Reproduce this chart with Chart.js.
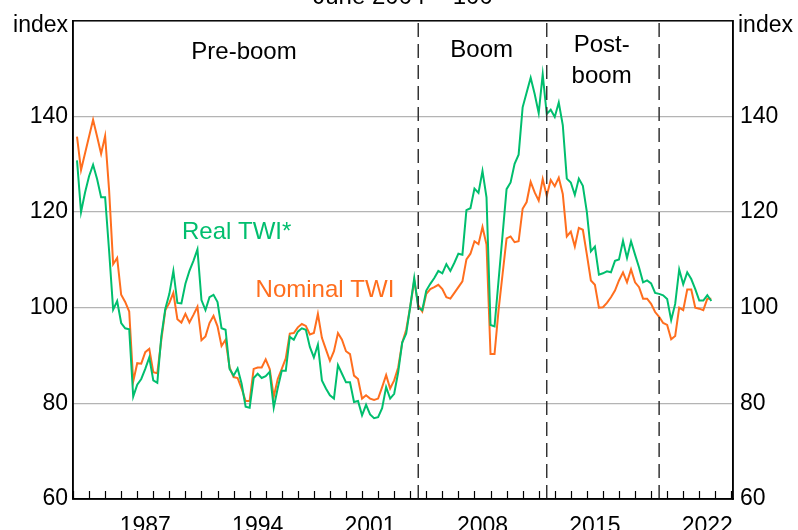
<!DOCTYPE html>
<html><head><meta charset="utf-8">
<script src="https://cdn.jsdelivr.net/npm/chart.js@4/dist/chart.umd.min.js"></script>
<style>html,body{margin:0;padding:0;background:#fff;overflow:hidden}</style>
</head><body>
<canvas id="c" width="798" height="530"></canvas>
<script>
// Quarterly observations, March 1983 to September 2022 (June 2004 = 100)
const firstYear = 1983;
const quarterMonths = [3, 6, 9, 12];
const nominalTWI = [
135.8,128.8,132.3,135.8,139.3,135.8,132.2,135.9,124.5,109.1,110.4,102.7,101.2,99.2,84.6,88.4,
88.3,90.7,91.4,86.5,86.3,93.3,99.5,101.0,103.1,97.6,96.9,98.7,96.9,98.5,100.2,93.2,
94.0,96.8,98.3,96.1,92.0,93.3,87.5,85.5,85.3,83.1,80.5,80.5,87.2,87.5,87.5,89.2,
87.2,81.4,85.1,87.2,89.4,94.6,94.7,95.9,96.6,96.2,94.4,94.7,98.7,93.7,91.3,88.9,
90.9,94.7,93.3,90.9,90.3,85.8,85.1,81.0,81.7,81.0,80.7,81.0,83.4,85.9,83.1,84.8,
87.5,92.7,95.4,100.2,105.7,100.5,99.2,102.9,103.9,104.3,104.8,103.9,102.2,101.9,103.1,104.3,
105.5,110.1,111.3,113.9,113.3,116.9,113.2,90.3,90.3,99.5,107.0,114.5,114.9,113.7,113.9,120.7,
122.1,126.3,124.1,122.4,126.9,123.4,126.7,125.4,127.2,123.8,114.9,115.9,112.8,116.7,116.3,111.1,
105.7,104.8,100.0,100.1,101.0,102.2,103.6,105.7,107.4,105.3,108.0,105.3,104.3,101.9,101.9,100.8,
99.1,98.1,96.8,96.4,93.4,94.1,100.0,99.5,103.8,103.8,100.0,99.8,99.5,101.9,101.9
];
const realTWI = [
130.8,120.0,124.1,127.5,129.9,126.9,123.1,123.1,111.8,99.6,101.4,96.8,95.7,95.5,81.4,83.9,
85.1,87.2,89.6,84.8,84.3,94.0,99.8,102.9,107.7,101.0,100.9,105.0,107.7,109.8,112.2,101.6,
99.5,102.2,102.7,101.2,95.7,95.4,87.2,85.8,87.3,84.1,79.3,79.1,85.3,86.2,85.3,85.7,
86.6,79.1,83.2,86.8,86.8,93.9,93.3,95.0,95.7,95.4,91.8,89.6,92.3,84.8,83.1,81.7,
81.0,88.0,86.2,84.4,84.4,80.3,80.5,77.5,79.7,77.7,76.9,77.1,79.0,83.4,81.0,82.0,
86.5,92.7,94.6,100.2,106.2,100.0,99.5,103.6,105.0,106.2,107.7,107.2,109.1,107.7,109.4,111.3,
111.1,120.4,120.8,124.9,124.0,128.6,123.1,96.4,96.1,105.7,115.2,124.8,126.2,130.1,132.0,141.9,
145.0,148.1,144.7,140.7,148.8,140.5,141.4,139.9,142.9,138.2,127.0,126.2,123.6,127.0,125.5,120.0,
111.8,112.8,106.9,107.2,107.6,107.4,109.8,110.1,114.0,110.4,113.9,111.1,108.4,105.3,105.7,105.1,
103.1,102.9,102.6,101.8,97.4,100.8,108.0,104.9,107.4,106.0,103.9,101.5,101.5,102.6,101.4
];
const xTickLabels = ['1987', '1994', '2001', '2008', '2015', '2022'];
const yTickValues = [60, 80, 100, 120, 140];
const boomBoundaries = [2004.5, 2012.5, 2019.5];
const periodNames = [
  {lines: ['Pre-boom'], x: 1993.65, y: 152.1},
  {lines: ['Boom'], x: 2008.45, y: 152.45},
  {lines: ['Post-', 'boom'], x: 2015.92, y: 153.5}
];
const seriesNames = [
  {text: 'Real TWI*', x: 1993.19, y: 114.3, color: '#00BE6E'},
  {text: 'Nominal TWI', x: 1998.69, y: 102.2, color: '#FF6E1E'}
];

// category list (quarter dates) and decimal-year position
const quarters = [];
for (let i = 0; i < nominalTWI.length; i++) {
  const yr = firstYear + Math.floor(i / 4);
  const m = quarterMonths[i % 4];
  quarters.push({label: yr + '-' + String(m).padStart(2, '0'), x: yr + m / 12});
}

const FONT = "'Liberation Sans', Arial, sans-serif";
const GREEN = '#00BE6E', ORANGE = '#FF6E1E';

const lineData = arr => quarters.map((q, i) => ({x: q.x, y: arr[i]}));

const datasets = [
  {label: 'Nominal TWI', data: lineData(nominalTWI), borderColor: ORANGE, borderWidth: 2, pointRadius: 0, tension: 0, order: 2},
  {label: 'Real TWI*', data: lineData(realTWI), borderColor: GREEN, borderWidth: 2, pointRadius: 0, tension: 0, order: 1}
];
boomBoundaries.forEach(b => datasets.push({
  label: 'boundary', data: [{x: b, y: 60}, {x: b, y: 160}], borderColor: '#333', borderWidth: 1.5,
  borderDash: [14, 7], pointRadius: 0, order: 0
}));

const overlay = {
  id: 'overlay',
  afterDraw(chart) {
    const c = chart.ctx, a = chart.chartArea, xs = chart.scales.x, ys = chart.scales.y;
    c.save();
    // minor year ticks (inside)
    c.strokeStyle = '#000'; c.lineWidth = 1.2;
    for (let yr = Math.ceil(xs.min); yr <= xs.max; yr++) {
      const px = Math.round(xs.getPixelForValue(yr)) + 0.5;
      c.beginPath(); c.moveTo(px, a.bottom); c.lineTo(px, a.bottom - 8); c.stroke();
    }
    // frame
    c.lineWidth = 1.5; c.strokeStyle = '#000';
    c.strokeRect(a.left, a.top, a.right - a.left, a.bottom - a.top);
    // texts
    c.fillStyle = '#000';
    c.font = '23px ' + FONT;
    c.textBaseline = 'alphabetic';
    c.textAlign = 'right'; c.fillText('index', 68, 32);
    c.textAlign = 'left'; c.fillText('index', 738, 32);
    c.font = '24px ' + FONT;
    c.textAlign = 'center'; c.fillText('June 2004 = 100', 403, 4);
    periodNames.forEach(p => {
      const px = xs.getPixelForValue(p.x);
      let py = ys.getPixelForValue(p.y);
      p.lines.forEach((t, k) => c.fillText(t, px, py + k * 30.7));
    });
    seriesNames.forEach(s => {
      c.fillStyle = s.color;
      c.fillText(s.text, xs.getPixelForValue(s.x), ys.getPixelForValue(s.y));
    });
    c.restore();
  }
};

new Chart(document.getElementById('c'), {
  type: 'line',
  data: {datasets},
  options: {
    responsive: false, animation: false, devicePixelRatio: 1,
    layout: {padding: {top: 12, left: 0, right: 0, bottom: 0}},
    plugins: {legend: {display: false}, tooltip: {enabled: false}},
    scales: {
      x: {
        type: 'linear', min: 1983, max: 2024.1, position: 'bottom',
        afterBuildTicks: s => { s.ticks = xTickLabels.map(l => ({value: Number(l) + 0.5})); },
        ticks: {autoSkip: false, maxRotation: 0, padding: 14, color: '#000', font: {family: FONT, size: 23},
                callback: (v, i) => xTickLabels[i]},
        grid: {display: false, drawTicks: false},
        border: {display: true, color: '#000', width: 1.5},
        afterFit: s => { s.height = 31; }
      },
      y: {
        position: 'left', min: 60, max: 160,
        afterBuildTicks: s => { s.ticks = yTickValues.map(v => ({value: v})); },
        ticks: {padding: 5, color: '#000', font: {family: FONT, size: 23}},
        grid: {color: ctx => (ctx.tick && ctx.tick.value === 60) ? 'rgba(0,0,0,0)' : '#b4b4b4', lineWidth: 1.3, drawTicks: false},
        border: {display: true, color: '#000', width: 1.5},
        afterFit: s => { s.width = 73; }
      },
      y2: {
        position: 'right', min: 60, max: 160,
        afterBuildTicks: s => { s.ticks = yTickValues.map(v => ({value: v})); },
        ticks: {padding: 7, color: '#000', font: {family: FONT, size: 23}},
        grid: {display: false, drawTicks: false},
        border: {display: true, color: '#000', width: 1.5},
        afterFit: s => { s.width = 65; }
      }
    }
  },
  plugins: [overlay]
});
</script>
</body></html>
